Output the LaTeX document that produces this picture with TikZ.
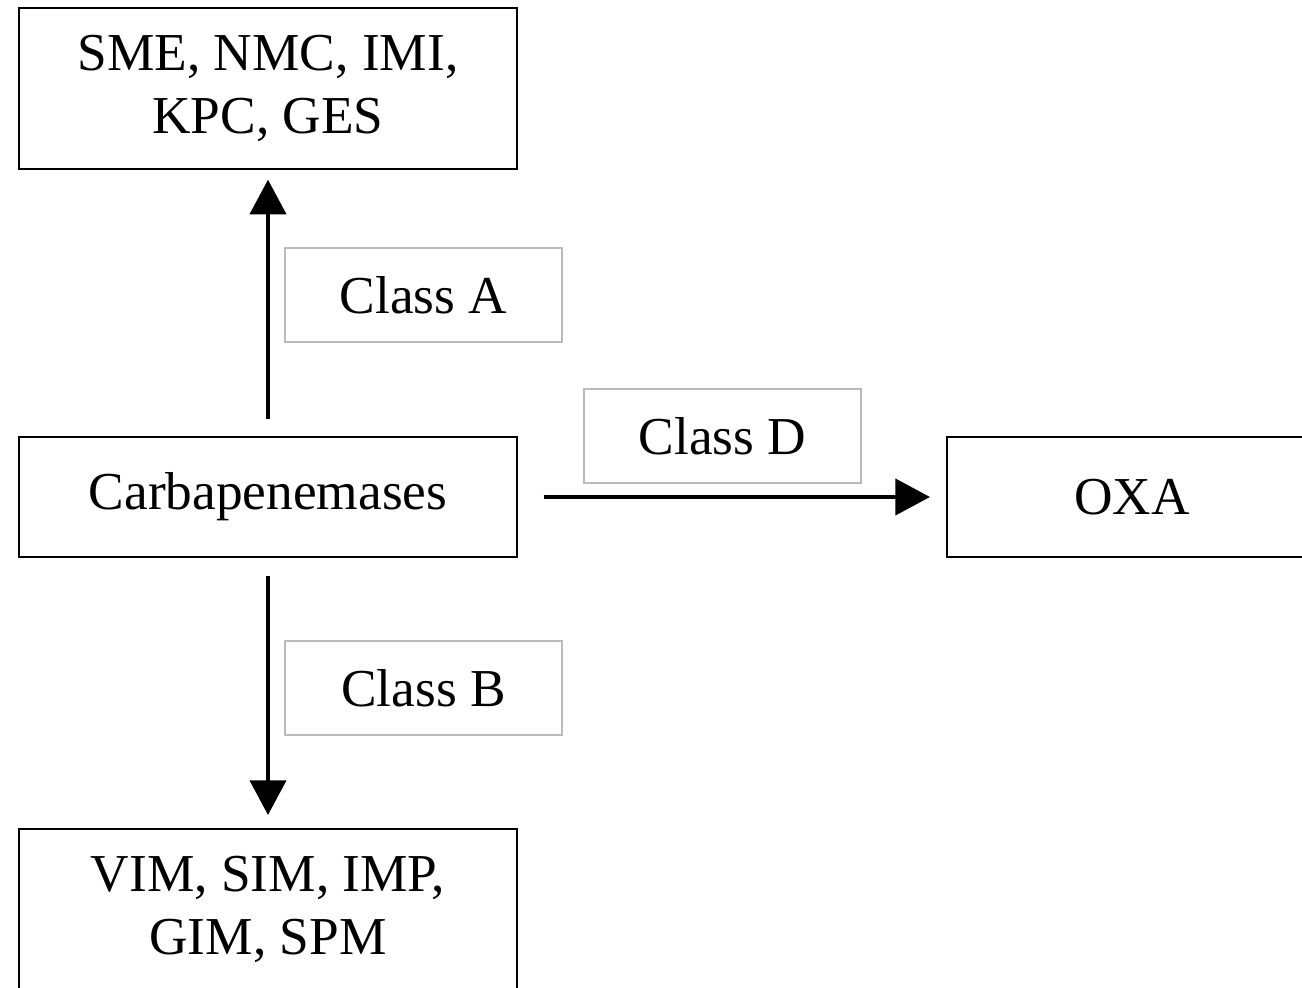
\documentclass[tikz,border=0pt]{standalone}
\usepackage{fontspec}
\setmainfont{Liberation Serif}
\usetikzlibrary{arrows.meta, positioning}

\begin{document}
\begin{tikzpicture}[line cap=butt,line join=miter,x=0.75pt,y=-0.75pt,
  >={Triangle[length=26pt,width=27pt]}]
\tikzset{every node/.style={font=\fontsize{40}{47}\selectfont, align=center, inner sep=0pt, outer sep=0pt},
  enzbox/.style={draw=black, line width=1.5pt, minimum width=373.5pt},
  classbox/.style={draw=black!27, line width=1.5pt, minimum width=207.75pt, minimum height=70.5pt},
  flow/.style={->, line width=3pt}}
\clip (0,0) rectangle (1302,988);
% boxes
\node[enzbox, minimum height=120.75pt] (clsA) at (268,88.5) {SME, NMC, IMI,\\KPC, GES};
\node[enzbox, minimum height=90pt] (carb) at (268,497) {Carbapenemases};
\node[enzbox, minimum height=90pt, minimum width=277.5pt] (oxa) at (1132,497) {OXA};
\node[enzbox, minimum height=120.75pt] (clsB) at (268,909.5) {VIM, SIM, IMP,\\GIM, SPM};
% labels
\node[classbox] (lblA) at (423.5,295) {Class A};
\node[classbox] (lblD) at (722.5,436) {Class D};
\node[classbox] (lblB) at (423.5,688) {Class B};
% arrows
\draw[flow, shorten <=13.5pt, shorten >=8pt] (carb.north) -- (clsA.south);
\draw[flow, shorten <=14pt, shorten >=10.5pt] (carb.south) -- (clsB.north);
\draw[flow, shorten <=20pt, shorten >=12.75pt] (carb.east) -- (oxa.west);
\end{tikzpicture}
\end{document}
